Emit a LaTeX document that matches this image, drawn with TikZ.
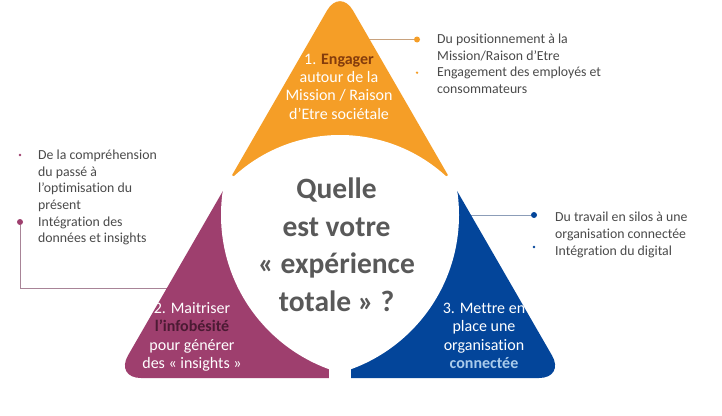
\documentclass[tikz,border=0pt]{standalone}
\usepackage{fontspec}
\setmainfont{Carlito}[RawFeature={-liga}]
\definecolor{corange}{HTML}{F59E27}
\definecolor{cpurple}{HTML}{9E3F6E}
\definecolor{cblue}{HTML}{03459A}
\definecolor{dorange}{HTML}{843C0C}
\definecolor{dpurple}{HTML}{4B1A33}
\definecolor{lblue}{HTML}{A9CBEB}
\definecolor{cgray}{HTML}{595959}
\definecolor{tgray}{HTML}{4A4A4A}
\definecolor{lorange}{HTML}{C8A27E}
\definecolor{lpurple}{HTML}{A88497}
\definecolor{lblueline}{HTML}{8C9DB8}
\tikzset{
  bigdot/.style={circle, inner sep=0pt, minimum size=6pt},
  smalldot/.style={circle, inner sep=0pt, minimum size=2.6pt},
  conn/.style={line width=1pt},
  side/.style={anchor=base west, inner sep=0pt, text=tgray, font=\fontsize{13.8}{16.7}\selectfont},
  piece/.style={anchor=base, inner sep=0pt, text=white, font=\fontsize{16}{18.4}\selectfont},
  center/.style={anchor=base, inner sep=0pt, text=cgray, font=\bfseries\fontsize{29.5}{37.8}\selectfont},
  gap/.style={draw=white, line width=18pt},
  tri/.style={rounded corners=26pt}
}
\begin{document}
\begin{tikzpicture}[x=1pt,y=-1pt]
\useasboundingbox (0,0) rectangle (722,415);
\fill[white] (0,0) rectangle (722,415);

% connectors and bullets
\coordinate (oin) at (355,39.5);
\node[bigdot, fill=corange] (od1) at (417,39.5) {};
\node[smalldot, fill=corange] (od2) at (417,72.7) {};
\draw[conn, draw=lorange] (od1) -- (oin);

\coordinate (pbend) at (20,288);
\coordinate (pin) at (180,288);
\node[smalldot, fill=cpurple] (pd1) at (20,155) {};
\node[bigdot, fill=cpurple] (pd2) at (20,222) {};
\draw[conn, draw=lpurple] (pd2) -- (pbend) -- (pin);

\coordinate (bin) at (465,215);
\node[bigdot, fill=cblue] (bd1) at (534,215) {};
\node[smalldot, fill=cblue] (bd2) at (534,247) {};
\draw[conn, draw=lblueline] (bd1) -- (bin);

% pieces
\begin{scope}
\clip (340,248) -- (-93,-2) -- (-93,-100) -- (773,-100) -- (773,-2) -- cycle;
\fill[corange, tri] (340,-12) -- (115,378) -- (565,378) -- cycle;
\fill[white] (340,292) circle[radius=157pt];
\end{scope}
\begin{scope}
\clip (340,248) -- (-93,-2) -- (-93,500) -- (340,500) -- cycle;
\fill[cpurple, tri] (340,-12) -- (115,378) -- (565,378) -- cycle;
\fill[white] (385,215) circle[radius=164pt];
\end{scope}
\begin{scope}
\clip (340,248) -- (340,500) -- (773,500) -- (773,-2) -- cycle;
\fill[cblue, tri] (340,-12) -- (115,378) -- (565,378) -- cycle;
\fill[white] (295,215) circle[radius=164pt];
\end{scope}

% gaps
\coordinate (cen) at (340,248);
\coordinate (gl) at (210,173);
\coordinate (gr) at (470,173);
\coordinate (gb) at (340,400);
\draw[gap] (cen) -- (gl);
\draw[gap] (cen) -- (gr);
\draw[gap, line width=22pt] (cen) -- (gb);

% texts
\node[center] (q) at (336.5,198.3) {\begin{tabular}[t]{@{}c@{}}Quelle\\est votre\\« expérience\\totale » ?\end{tabular}};
\node[piece] (ot) at (339,64) {\begin{tabular}[t]{@{}c@{}}1. \textbf{\color{dorange}Engager}\\autour de la\\Mission / Raison\\d’Etre sociétale\end{tabular}};
\node[piece] (pt) at (192,313.3) {\begin{tabular}[t]{@{}c@{}}2. Maitriser\\\textbf{\color{dpurple}l’infobésité}\\pour générer\\des « insights »\end{tabular}};
\node[piece] (bt) at (484,313.3) {\begin{tabular}[t]{@{}c@{}}3. Mettre en\\place une\\organisation\\\textbf{\color{lblue}connectée}\end{tabular}};

\node[side] (os) at (437,43.3) {\begin{tabular}[t]{@{}l@{}}Du positionnement à la\\Mission/Raison d’Etre\\Engagement des employés et\\consommateurs\end{tabular}};
\node[side] (ps) at (38,159.3) {\begin{tabular}[t]{@{}l@{}}De la compréhension\\du passé à\\l’optimisation du\\présent\\Intégration des\\données et insights\end{tabular}};
\node[side] (bs) at (555,221.7) {\begin{tabular}[t]{@{}l@{}}Du travail en silos à une\\organisation connectée\\Intégration du digital\end{tabular}};
\end{tikzpicture}
\end{document}
